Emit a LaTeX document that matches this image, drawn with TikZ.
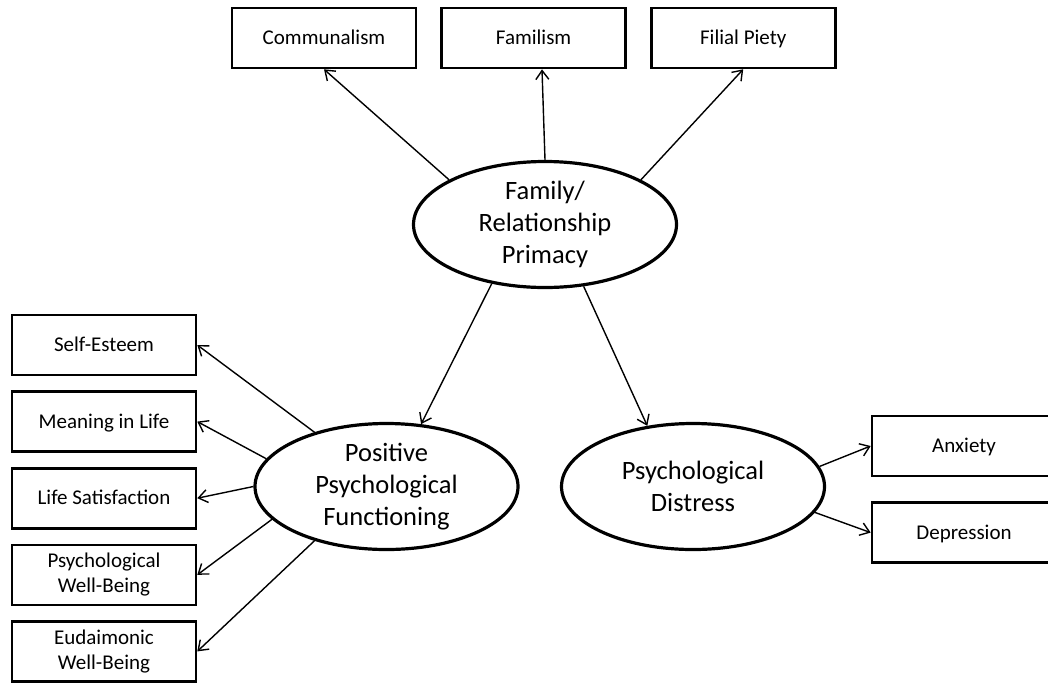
\documentclass[tikz,border=0pt]{standalone}
\usepackage{fontspec}
\setmainfont{Carlito}
\usetikzlibrary{arrows.meta, positioning, shapes.geometric}

\begin{document}
\begin{tikzpicture}[
	  x=1pt, y=-1pt,
	  font=\fontsize{21}{25}\selectfont,
	  node distance=14pt and 23pt,
	  box/.style={
	    draw,
	    line width=2.6pt,
	    align=center,
	    minimum width=184pt,
	    minimum height=60pt,
	    inner sep=2pt,
	    text height=13.5pt,
	    text depth=0pt
	  },
	  twoline/.style={text height=, text depth=},
	  latent/.style={
	    draw,
	    ellipse,
	    line width=3.2pt,
	    align=center,
	    minimum width=263pt,
	    minimum height=126pt,
	    inner sep=0pt,
	    font=\fontsize{26.5}{32}\selectfont
	  },
	  arrow/.style={-{Straight Barb[length=9pt,width=13pt]},line width=1.4pt}
	]
	\useasboundingbox (0,0) rectangle (1048,683);
	
	% Latent factors
	\node[latent] (family) at (545,224.5) {Family/\\Relationship\\Primacy};
	\node[latent] (positive) at (386.5,486.5) {Positive\\Psychological\\Functioning};
	\node[latent] (distress) at (693,486.5) {Psychological\\Distress};
	
	% Top indicators
	\node[box] (communalism) at (324,38) {Communalism};
	\node[box,right=of communalism] (familism) {Familism};
	\node[box,right=of familism] (filial) {Filial Piety};
	
	% Left indicators
	\node[box] (selfesteem) at (104,345) {Self-Esteem};
	\node[box,below=of selfesteem] (meaning) {Meaning in Life};
	\node[box,below=of meaning] (lifesat) {Life Satisfaction};
	\node[box,twoline,below=of lifesat] (wellbeing) {Psychological\\Well-Being};
	\node[box,twoline,below=of wellbeing] (eudaimonic) {Eudaimonic\\Well-Being};
	
	% Right indicators
	\node[box] (anxiety) at (964,446) {Anxiety};
	\node[box,below=24pt of anxiety] (depression) {Depression};
	
	% Family loadings
	\draw[arrow] (family.155) -- (communalism.south);
	\draw[arrow] (family.90) -- (familism.-75);
	\draw[arrow] (family.25) -- (filial.south);
	
	% Paths between factors
	\draw[arrow] (family.-132) -- (positive.61);
	\draw[arrow] (family.-58) -- (distress.127);
	
	% Positive functioning loadings
	\draw[arrow] (positive.143) -- (selfesteem.east);
	\draw[arrow] (positive.167) -- (meaning.east);
	\draw[arrow] (positive.180) -- (lifesat.east);
	\draw[arrow] (positive.-164) -- (wellbeing.east);
	\draw[arrow] (positive.-143) -- (eudaimonic.east);
	
	% Distress loadings
	\draw[arrow] (distress.9) -- (anxiety.west);
	\draw[arrow] (distress.-12) -- (depression.west);
	
	\end{tikzpicture}
\end{document}
